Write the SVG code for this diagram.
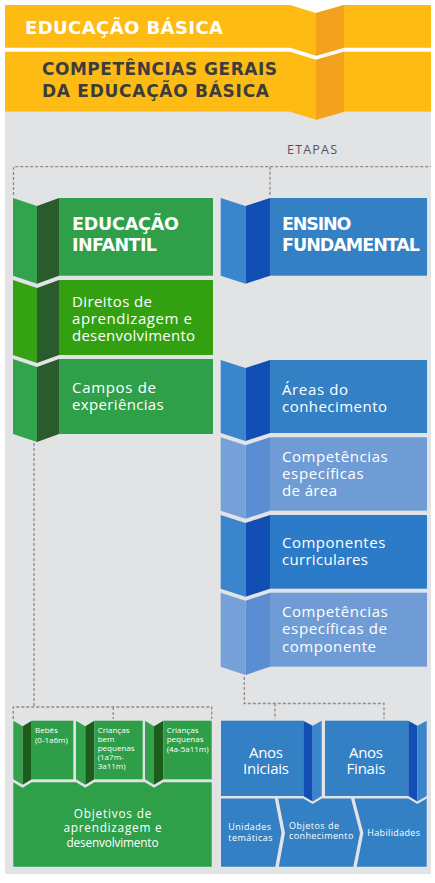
<svg xmlns="http://www.w3.org/2000/svg" width="435" height="883" viewBox="0 0 435 883">
<style>
.f{font-family:'Open Sans','Liberation Sans',sans-serif}
.b{font-family:'DejaVu Sans','Liberation Sans',sans-serif;font-weight:700}
.w{fill:#fff}
.y{fill:#fdbb14}
.o{fill:#f3a220}
.gm{fill:#2f9f4a}.gl{fill:#34a34e}.gs{fill:#2a5b2d}
.lm{fill:#33a012}.ll{fill:#35a214}
.bm{fill:#3480c5}.bl{fill:#3a85cc}.bs{fill:#124fb4}
.cm{fill:#6f9cd5}.cl{fill:#76a1d8}.cs{fill:#5a8dd1}
.dm{fill:#2c7bc8}
.sm{fill:#2f9e48}.sl{fill:#33a24c}.ss{fill:#1c5d1b}
.s{font-size:8px}
.dash{fill:none;stroke:#8c8c8c;stroke-width:1.3;stroke-dasharray:3 2}
</style>
<rect x="5" y="112" width="426" height="762" fill="#e2e3e5"/>
<g id="header1">
<path class="y" d="M5,5 L290,5 L316,13 L344,5 L431,5 L431,47.7 L344,47.7 L316,55.7 L290,47.7 L5,47.7 Z"/>
<path class="o" d="M316,13 L344,5 L344,47.7 L316,55.7 Z"/>
<text class="b w" x="25" y="34" font-size="18" textLength="198" lengthAdjust="spacing">EDUCAÇÃO BÁSICA</text>
</g>
<g id="header2">
<path class="y" d="M5,51.7 L290,51.7 L316,59.7 L344,51.7 L431,51.7 L431,111.7 L344,111.7 L316,119.7 L290,111.7 L5,111.7 Z"/>
<path class="o" d="M316,59.7 L344,51.7 L344,111.7 L316,119.7 Z"/>
<text class="b" fill="#3c3c3c" font-size="17" x="42" y="75" textLength="235" lengthAdjust="spacing">COMPETÊNCIAS GERAIS</text>
<text class="b" fill="#3c3c3c" font-size="17" x="42" y="96.7" textLength="227" lengthAdjust="spacing">DA EDUCAÇÃO BÁSICA</text>
</g>
<g id="connectors">
<text class="f" fill="#555" font-size="12.5" x="287" y="154.3" textLength="50" lengthAdjust="spacing">ETAPAS</text>
<path class="dash" d="M13.5,195 V166.7 H431 M270,166.7 V196"/>
<path class="dash" d="M34,443 V707 M13.3,719 V707 H211.7 V719 M113.3,707 V719"/>
<path class="dash" d="M244.3,677 V703.5 H384 V719 M275,703.5 V719"/>
</g>
<g id="educacao-infantil">
<polygon class="gl" points="13,198 37,206 37,283.7 13,275.7"/>
<polygon class="gs" points="37,206 59,198 59,275.7 37,283.7"/>
<rect class="gm" x="59" y="198" width="154" height="77.7"/>
<text class="b w" font-size="17.5" x="72" y="230" textLength="107" lengthAdjust="spacing">EDUCAÇÃO</text>
<text class="b w" font-size="17.5" x="72" y="250.5" textLength="85" lengthAdjust="spacing">INFANTIL</text>
</g>
<g id="direitos">
<polygon class="ll" points="13,280 37,288 37,363 13,355"/>
<polygon class="gs" points="37,288 59,280 59,355 37,363"/>
<rect class="lm" x="59" y="280" width="154" height="75"/>
<text class="f w" font-size="15" x="72" y="307.3" textLength="80" lengthAdjust="spacing">Direitos de</text>
<text class="f w" font-size="15" x="72" y="323.8" textLength="120" lengthAdjust="spacing">aprendizagem e</text>
<text class="f w" font-size="15" x="72" y="340.7" textLength="123" lengthAdjust="spacing">desenvolvimento</text>
</g>
<g id="campos">
<polygon class="gl" points="13,359 37,367 37,442 13,434"/>
<polygon class="gs" points="37,367 59,359 59,434 37,442"/>
<rect class="gm" x="59" y="359" width="154" height="75"/>
<text class="f w" font-size="15" x="72" y="393.3" textLength="84" lengthAdjust="spacing">Campos de</text>
<text class="f w" font-size="15" x="72" y="409.5" textLength="91.7" lengthAdjust="spacing">experiências</text>
</g>
<g id="ensino-fundamental">
<polygon class="bl" points="220.7,198 245.5,206 245.5,283.7 220.7,275.7"/>
<polygon class="bs" points="245.5,206 270,198 270,275.7 245.5,283.7"/>
<rect class="bm" x="270" y="198" width="157" height="77.7"/>
<text class="b w" font-size="17.5" x="282" y="230" textLength="69.3" lengthAdjust="spacing">ENSINO</text>
<text class="b w" font-size="17.5" x="282" y="250.5" textLength="138" lengthAdjust="spacing">FUNDAMENTAL</text>
</g>
<g id="areas">
<polygon class="bl" points="220.7,360 245.5,368 245.5,441 220.7,433"/>
<polygon class="bs" points="245.5,368 270,360 270,433 245.5,441"/>
<rect class="bm" x="270" y="360" width="157" height="73"/>
<text class="f w" font-size="15" x="282" y="395" textLength="66" lengthAdjust="spacing">Áreas do</text>
<text class="f w" font-size="15" x="282" y="411.7" textLength="105" lengthAdjust="spacing">conhecimento</text>
</g>
<g id="competencias-area">
<polygon class="cl" points="220.7,437.3 245.5,445.3 245.5,518.7 220.7,510.7"/>
<polygon class="cs" points="245.5,445.3 270,437.3 270,510.7 245.5,518.7"/>
<rect class="cm" x="270" y="437.3" width="157" height="73.4"/>
<text class="f w" font-size="15" x="282" y="462.3" textLength="105.7" lengthAdjust="spacing">Competências</text>
<text class="f w" font-size="15" x="282" y="479" textLength="81.7" lengthAdjust="spacing">específicas</text>
<text class="f w" font-size="15" x="282" y="495.7" textLength="55" lengthAdjust="spacing">de área</text>
</g>
<g id="componentes">
<polygon class="bl" points="220.7,515 245.5,523 245.5,596.7 220.7,588.7"/>
<polygon class="bs" points="245.5,523 270,515 270,588.7 245.5,596.7"/>
<rect class="dm" x="270" y="515" width="157" height="73.7"/>
<text class="f w" font-size="15" x="282" y="548.3" textLength="103.3" lengthAdjust="spacing">Componentes</text>
<text class="f w" font-size="15" x="282" y="565" textLength="86" lengthAdjust="spacing">curriculares</text>
</g>
<g id="competencias-componente">
<polygon class="cl" points="220.7,592.7 245.5,600.7 245.5,675 220.7,666.7"/>
<polygon class="cs" points="245.5,600.7 270,592.7 270,666.7 245.5,675"/>
<rect class="cm" x="270" y="592.7" width="157" height="74"/>
<text class="f w" font-size="15" x="282" y="616.7" textLength="105.7" lengthAdjust="spacing">Competências</text>
<text class="f w" font-size="15" x="282" y="634" textLength="105" lengthAdjust="spacing">específicas de</text>
<text class="f w" font-size="15" x="282" y="651.7" textLength="94" lengthAdjust="spacing">componente</text>
</g>
<g id="bebes">
<polygon class="sl" points="13.3,720.7 22.7,726.2 22.7,784.8 13.3,779.3"/>
<polygon class="ss" points="22.7,726.2 31.7,720.7 31.7,779.3 22.7,784.8"/>
<rect class="sm" x="31.7" y="720.7" width="41.6" height="58.6"/>
<text class="f w s" x="35" y="733.3">Bebês</text>
<text class="f w s" x="35" y="743">(0-1a6m)</text>
</g>
<g id="criancas-bem-pequenas">
<polygon class="sl" points="76,720.7 85.3,726.2 85.3,784.8 76,779.3"/>
<polygon class="ss" points="85.3,726.2 94.3,720.7 94.3,779.3 85.3,784.8"/>
<rect class="sm" x="94.3" y="720.7" width="48.4" height="58.6"/>
<text class="f w s" x="97.7" y="732.7">Crianças</text>
<text class="f w s" x="97.7" y="741.7">bem</text>
<text class="f w s" x="97.7" y="750.5">pequenas</text>
<text class="f w s" x="97.7" y="759.7">(1a7m-</text>
<text class="f w s" x="97.7" y="768.7">3a11m)</text>
</g>
<g id="criancas-pequenas">
<polygon class="sl" points="145,720.7 154,726.2 154,784.8 145,779.3"/>
<polygon class="ss" points="154,726.2 163.3,720.7 163.3,779.3 154,784.8"/>
<rect class="sm" x="163.3" y="720.7" width="48.4" height="58.6"/>
<text class="f w s" x="166.7" y="732.7">Crianças</text>
<text class="f w s" x="166.7" y="742.2">pequenas</text>
<text class="f w s" x="166.7" y="751.5">(4a-5a11m)</text>
</g>
<g id="objetivos">
<path class="gm" d="M13.3,782.3 L22.7,787.8 L31.7,782.3 L76,782.3 L85.3,787.8 L94.3,782.3 L145,782.3 L154,787.8 L163.3,782.3 L211.7,782.3 L211.7,866.7 L13.3,866.7 Z"/>
<text class="f w" font-size="11.8" x="112.5" y="817.5" text-anchor="middle" textLength="77.7" lengthAdjust="spacing">Objetivos de</text>
<text class="f w" font-size="11.8" x="112.5" y="832" text-anchor="middle" textLength="98" lengthAdjust="spacing">aprendizagem e</text>
<text class="f w" font-size="11.8" x="112.5" y="846.5" text-anchor="middle" textLength="92" lengthAdjust="spacing">desenvolvimento</text>
</g>
<g id="anos-iniciais">
<rect class="bm" x="221" y="720.7" width="82.3" height="75.3"/>
<polygon class="bs" points="303.3,720.7 312.7,725.7 312.7,801.5 303.3,796"/>
<polygon class="bl" points="312.7,725.7 321.7,720.7 321.7,796 312.7,801.5"/>
<text class="f w" font-size="15" x="266" y="758.3" text-anchor="middle" textLength="34" lengthAdjust="spacing">Anos</text>
<text class="f w" font-size="15" x="266" y="773.5" text-anchor="middle" textLength="46" lengthAdjust="spacing">Iniciais</text>
</g>
<g id="anos-finais">
<rect class="bm" x="325" y="720.7" width="83.3" height="75.3"/>
<polygon class="bs" points="408.3,720.7 417.3,725.7 417.3,801.5 408.3,796"/>
<polygon class="bl" points="417.3,725.7 426.7,720.7 426.7,796 417.3,801.5"/>
<text class="f w" font-size="15" x="366" y="758.3" text-anchor="middle" textLength="34" lengthAdjust="spacing">Anos</text>
<text class="f w" font-size="15" x="366" y="773.5" text-anchor="middle" textLength="39" lengthAdjust="spacing">Finais</text>
</g>
<g id="unidades-tematicas">
<polygon class="bm" points="221,798.5 274.8,798.5 281.5,833 275.3,866.7 221,866.7"/>
<text class="f w" font-size="9" x="228.3" y="830" textLength="42.7" lengthAdjust="spacing">Unidades</text>
<text class="f w" font-size="9" x="228.3" y="840.5" textLength="44.3" lengthAdjust="spacing">temáticas</text>
</g>
<g id="objetos-conhecimento">
<polygon class="bm" points="278.2,798.5 303.3,798.5 312.7,804 321.7,798.5 351,798.5 360,833 353.3,866.7 278.8,866.7 285,833"/>
<text class="f w" font-size="9" x="289" y="829" textLength="50" lengthAdjust="spacing">Objetos de</text>
<text class="f w" font-size="9" x="289" y="839.3" textLength="64.3" lengthAdjust="spacing">conhecimento</text>
</g>
<g id="habilidades">
<polygon class="bm" points="354.4,798.5 408.3,798.5 417.3,804 426.7,798.5 426.7,866.7 356.7,866.7 363.4,833"/>
<text class="f w" font-size="9" x="367.3" y="835.7" textLength="52.7" lengthAdjust="spacing">Habilidades</text>
</g>
</svg>
